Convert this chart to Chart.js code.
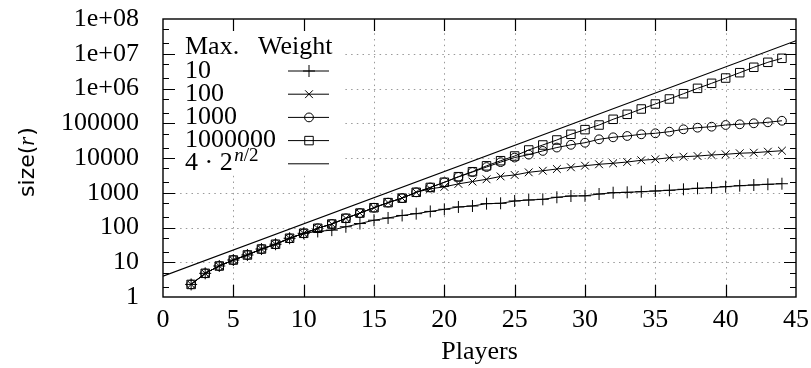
<!DOCTYPE html>
<html><head><meta charset="utf-8">
<script src="https://cdn.jsdelivr.net/npm/chart.js@4/dist/chart.umd.min.js"></script>
<style>html,body{margin:0;padding:0;background:#fff;}canvas{display:block}</style>
</head><body>
<canvas id="c" width="811" height="368"></canvas>
<script>
// ---- data ----
const players = [2,3,4,5,6,7,8,9,10,11,12,13,14,15,16,17,18,19,20,21,22,23,24,25,26,27,28,29,30,31,32,33,34,35,36,37,38,39,40,41,42,43,44];
const weight10 = [2.3,4.8,7.8,11.6,16.2,24,33,49,68,77,84,105,130,162,188,222,250,290,334,390,416,485,497,579,618,648,740,806,815,920,1003,1030,1072,1123,1177,1257,1343,1397,1493,1596,1671,1750,1821];
const weight100 = [2.3,4.8,7.8,11.6,16.2,24,33,49,68,95,126,184,260,371,520,700,1030,1300,1480,1800,2100,2440,2950,3250,3870,4300,4820,5400,6000,6590,7040,7670,8590,9180,10200,10900,11400,12200,12800,13700,14200,15200,16200];
const weight1000 = [2.3,4.8,7.8,11.6,16.2,24,33,49,68,95,126,184,260,371,520,700,1030,1420,2000,2850,3950,5500,7600,10300,12500,16000,20000,24000,27500,34500,39400,43000,48100,51400,57200,67000,74500,79600,89100,93300,99700,106500,118000];
const weight1000000 = [2.3,4.8,7.8,11.6,16.2,24,33,49,68,95,126,184,260,371,520,700,1030,1420,2000,2900,4030,5950,8360,11400,17000,23700,33000,48100,65500,89000,130000,181000,257000,358000,499000,708000,1010000,1410000,2000000,2850000,4080000,5670000,7400000];
const boundPlayers = [0, 45];
const boundSize = [4, 23700000];
const seriesNames = ['10', '100', '1000', '1000000'];
const legendTitle = ['Max.', 'Weight'];
const xTicks = [0,5,10,15,20,25,30,35,40,45];
const yTicks = [1,10,100,1000,10000,100000,1000000,10000000,100000000];
const yTickLabels = ['1','10','100','1000','10000','100000','1e+06','1e+07','1e+08'];
const xTitle = 'Players';

// ---- styling ----
const SERIF = '"Liberation Serif", "DejaVu Serif", serif';
const styles = ['cross', 'crossRot', 'circle', 'rect'];
const radii = [6, 5.5, 4.4, 6];

function mk(vals, i) {
  return {
    label: seriesNames[i],
    data: players.map((p, k) => ({x: p, y: vals[k]})),
    borderColor: '#000', borderWidth: 1,
    pointStyle: styles[i], pointRadius: radii[i],
    pointBorderColor: '#000', pointBackgroundColor: 'rgba(0,0,0,0)', pointBorderWidth: 1,
    fill: false, tension: 0
  };
}

function drawMarker(ctx, style, x, y, r) {
  ctx.beginPath();
  if (style === 'cross') {
    ctx.moveTo(x - r, y); ctx.lineTo(x + r, y); ctx.moveTo(x, y - r); ctx.lineTo(x, y + r);
  } else if (style === 'crossRot') {
    const d = r * Math.SQRT1_2;
    ctx.moveTo(x - d, y - d); ctx.lineTo(x + d, y + d); ctx.moveTo(x - d, y + d); ctx.lineTo(x + d, y - d);
  } else if (style === 'circle') {
    ctx.arc(x, y, r, 0, Math.PI * 2);
  } else if (style === 'rect') {
    const s = r * Math.SQRT1_2; ctx.rect(x - s, y - s, 2 * s, 2 * s);
  }
  ctx.stroke();
}

const gridPlugin = {
  id: 'gridPlugin',
  beforeDatasetsDraw(chart) {
    const {ctx, chartArea: a, scales: {x, y}} = chart;
    ctx.save();
    ctx.strokeStyle = '#9a9a9a'; ctx.lineWidth = 1; ctx.setLineDash([1.5, 4.2]);
    xTicks.slice(1, -1).forEach(v => {
      const px = Math.round(x.getPixelForValue(v)) + 0.5;
      ctx.beginPath(); ctx.moveTo(px, a.bottom); ctx.lineTo(px, a.top); ctx.stroke();
    });
    yTicks.slice(1, -1).forEach(v => {
      const py = Math.round(y.getPixelForValue(v)) + 0.5;
      ctx.beginPath(); ctx.moveTo(a.left, py); ctx.lineTo(a.right, py); ctx.stroke();
    });
    ctx.restore();
  },
  afterDatasetsDraw(chart) {
    const {ctx, chartArea: a, scales: {x, y}} = chart;
    ctx.save();
    // opaque key box
    ctx.fillStyle = '#fff';
    ctx.fillRect(a.left + 1, a.top + 1, 178, 153);
    // key
    ctx.fillStyle = '#000'; ctx.strokeStyle = '#000'; ctx.lineWidth = 1;
    ctx.font = '26px ' + SERIF; ctx.textBaseline = 'alphabetic'; ctx.textAlign = 'left';
    const tx = a.left + 22;
    ctx.fillText(legendTitle[0], tx, a.top + 35);
    ctx.fillText(legendTitle[1], a.left + 95, a.top + 35);
    const rowStep = 23.2;
    for (let i = 0; i < 5; i++) {
      const ry = a.top + 51.5 + i * rowStep;
      if (i < 4) {
        ctx.fillText(seriesNames[i], tx, ry + 7);
      } else {
        ctx.font = '26px ' + SERIF;
        const base = '4 \u00B7 2';
        ctx.fillText(base, tx, ry + 7);
        const w = ctx.measureText(base).width;
        ctx.font = 'italic 19px ' + SERIF;
        ctx.fillText('n', tx + w + 1.5, ry - 2);
        const wn = ctx.measureText('n').width;
        ctx.font = '19px ' + SERIF;
        ctx.fillText('/2', tx + w + 1.5 + wn, ry - 2);
        ctx.font = '26px ' + SERIF;
      }
      ctx.beginPath(); ctx.moveTo(a.left + 125, ry + 0.5); ctx.lineTo(a.left + 166, ry + 0.5); ctx.stroke();
      if (i < 4) drawMarker(ctx, styles[i], a.left + 146, ry + 0.5, radii[i]);
    }
    // ticks
    ctx.lineWidth = 1.2;
    const maj = 12, mnr = 6;
    ctx.beginPath();
    xTicks.slice(1, -1).forEach(v => {
      const px = Math.round(x.getPixelForValue(v)) + 0.5;
      ctx.moveTo(px, a.bottom); ctx.lineTo(px, a.bottom - maj);
      ctx.moveTo(px, a.top); ctx.lineTo(px, a.top + maj);
    });
    yTicks.slice(1, -1).forEach(v => {
      const py = Math.round(y.getPixelForValue(v)) + 0.5;
      ctx.moveTo(a.left, py); ctx.lineTo(a.left + maj, py);
      ctx.moveTo(a.right, py); ctx.lineTo(a.right - maj, py);
    });
    yTicks.slice(0, -1).forEach(v => {
      [2, 5].forEach(m => {
        const py = Math.round(y.getPixelForValue(v * m)) + 0.5;
        ctx.moveTo(a.left, py); ctx.lineTo(a.left + mnr, py);
        ctx.moveTo(a.right, py); ctx.lineTo(a.right - mnr, py);
      });
    });
    ctx.stroke();
    // frame
    ctx.lineWidth = 1.4;
    ctx.strokeRect(a.left, a.top, a.right - a.left, a.bottom - a.top);
    // y title: size(r)
    ctx.translate(34, 162);
    ctx.rotate(-Math.PI / 2);
    const p1 = 'size(', p2 = 'r', p3 = ')';
    ctx.font = '22px "DejaVu Sans", sans-serif';
    const w1 = ctx.measureText(p1).width, w3 = ctx.measureText(p3).width;
    ctx.font = 'italic 23px ' + SERIF;
    const w2 = ctx.measureText(p2).width + 1;
    let sx = -(w1 + w2 + w3) / 2;
    ctx.font = '22px "DejaVu Sans", sans-serif';
    ctx.fillText(p1, sx, 0);
    ctx.font = 'italic 23px ' + SERIF;
    ctx.fillText(p2, sx + w1, 0);
    ctx.font = '22px "DejaVu Sans", sans-serif';
    ctx.fillText(p3, sx + w1 + w2, 0);
    ctx.restore();
  }
};

new Chart(document.getElementById('c'), {
  type: 'line',
  data: {
    datasets: [
      mk(weight10, 0), mk(weight100, 1), mk(weight1000, 2), mk(weight1000000, 3),
      {
        label: 'bound',
        data: boundPlayers.map((p, k) => ({x: p, y: boundSize[k]})),
        borderColor: '#000', borderWidth: 1.2, pointRadius: 0, fill: false, tension: 0
      }
    ]
  },
  options: {
    responsive: false, animation: false, devicePixelRatio: 1,
    layout: {padding: {left: 0, right: 15, top: 19, bottom: 0}},
    plugins: {legend: {display: false}, tooltip: {enabled: false}},
    scales: {
      x: {
        type: 'linear', min: 0, max: 45,
        afterBuildTicks: s => { s.ticks = xTicks.map(v => ({value: v})); },
        afterFit: s => { s.height = 71; s.paddingLeft = 0; s.paddingRight = 0; s.paddingTop = 0; s.paddingBottom = 0; },
        grid: {display: false, drawTicks: false},
        border: {display: false},
        ticks: {color: '#000', font: {family: SERIF, size: 26}, padding: 8, maxRotation: 0, autoSkip: false,
          callback: v => String(v)},
        title: {display: true, text: xTitle, color: '#000', font: {family: SERIF, size: 26}, padding: {top: 0, bottom: 0}}
      },
      y: {
        type: 'logarithmic', min: 1, max: 100000000,
        afterBuildTicks: s => { s.ticks = yTicks.map(v => ({value: v})); },
        afterFit: s => { s.width = 163; s.paddingLeft = 0; s.paddingRight = 0; s.paddingTop = 0; s.paddingBottom = 0; },
        grid: {display: false, drawTicks: false},
        border: {display: false},
        ticks: {color: '#000', font: {family: SERIF, size: 26}, padding: 24, autoSkip: false,
          callback: (v) => { const i = yTicks.indexOf(v); return i >= 0 ? yTickLabels[i] : ''; }}
      }
    }
  },
  plugins: [gridPlugin]
});
</script>
</body></html>
